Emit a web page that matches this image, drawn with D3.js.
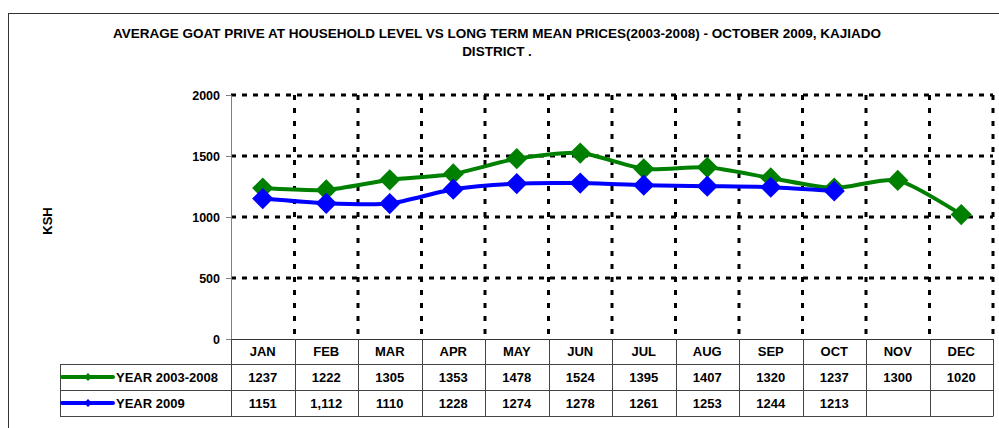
<!DOCTYPE html>
<html>
<head>
<meta charset="utf-8">
<script src="https://cdn.jsdelivr.net/npm/d3@7"></script>
<style>
  body { margin: 0; background: #fff; }
  svg { display: block; font-family: "Liberation Sans", Arial, sans-serif; font-weight: bold; }
</style>
</head>
<body>
<div id="chart"></div>
<script>
var months = ["JAN", "FEB", "MAR", "APR", "MAY", "JUN", "JUL", "AUG", "SEP", "OCT", "NOV", "DEC"];
var longTerm = [1237, 1222, 1305, 1353, 1478, 1524, 1395, 1407, 1320, 1237, 1300, 1020];
var year2009 = [1151, 1112, 1110, 1228, 1274, 1278, 1261, 1253, 1244, 1213];
var year2009Labels = ["1151", "1,112", "1110", "1228", "1274", "1278", "1261", "1253", "1244", "1213", "", ""];
var yTicks = [0, 500, 1000, 1500, 2000];
var seriesNames = ["YEAR 2003-2008", "YEAR 2009"];
var seriesColors = ["#008000", "#0000FF"];

function drawChart() {
    var width = 999;
    var height = 428;
    var fs = 13;

    var svg = d3.select('#chart')
      .append('svg')
      .attr('width', width)
      .attr('height', height);

    // outer chart border (runs off the right and bottom edges)
    svg.append('rect')
      .attr('x', 8.5).attr('y', 13.5)
      .attr('width', 1100).attr('height', 500)
      .attr('fill', 'none')
      .attr('stroke', '#333')
      .attr('stroke-width', 1);

    svg.append('text')
      .attr('x', 497).attr('y', 38)
      .attr('text-anchor', 'middle')
      .attr('font-size', 13.5)
      .text('AVERAGE GOAT PRIVE AT HOUSEHOLD LEVEL VS LONG TERM MEAN PRICES(2003-2008) - OCTOBER 2009, KAJIADO');
    svg.append('text')
      .attr('x', 497).attr('y', 56)
      .attr('text-anchor', 'middle')
      .attr('font-size', 13.5)
      .text('DISTRICT .');

    var left = 231, right = 993, top = 95, bottom = 339;

    var x = d3.scaleBand().domain(months).range([left, right]);
    var y = d3.scaleLinear().domain([0, 2000]).range([bottom, top]);

    // gridlines
    var grid = svg.append('g');
    grid.selectAll('.hgrid')
      .data(yTicks.filter(function(d) { return d > 0; }))
      .enter()
      .append('line')
      .attr('x1', left).attr('x2', right)
      .attr('y1', function(d) { return y(d); })
      .attr('y2', function(d) { return y(d); })
      .attr('stroke', '#000')
      .attr('stroke-width', 3)
      .attr('stroke-dasharray', '5,6');
    grid.selectAll('.vgrid')
      .data(months.slice(1).concat(['END']))
      .enter()
      .append('line')
      .attr('x1', function(d, i) { return left + (i + 1) * x.bandwidth(); })
      .attr('x2', function(d, i) { return left + (i + 1) * x.bandwidth(); })
      .attr('y1', top).attr('y2', bottom)
      .attr('stroke', '#000')
      .attr('stroke-width', 3)
      .attr('stroke-dasharray', '5,8');

    // y axis
    var yAxis = svg.append('g')
      .attr('transform', 'translate(' + left + ',0)')
      .call(d3.axisLeft(y).tickValues(yTicks).tickFormat(d3.format('d')).tickSize(5).tickPadding(6));
    yAxis.select('.domain').attr('stroke', '#808080');
    yAxis.selectAll('.tick line').attr('stroke', '#808080');
    yAxis.selectAll('text')
      .attr('font-size', 12.5)
      .attr('font-weight', 'bold')
      .attr('font-family', '"Liberation Sans", Arial, sans-serif')
      .attr('fill', '#000');

    svg.append('text')
      .attr('transform', 'translate(52,221) rotate(-90)')
      .attr('text-anchor', 'middle')
      .attr('font-size', fs)
      .text('KSH');

    // lines
    var line = d3.line()
      .x(function(d, i) { return x(months[i]) + x.bandwidth() / 2; })
      .y(function(d) { return y(d); })
      .curve(d3.curveCardinal.tension(0.3));

    var diamond = d3.symbol().type(d3.symbolSquare).size(225);

    [longTerm, year2009].forEach(function(series, s) {
      svg.append('path')
        .datum(series)
        .attr('d', line)
        .attr('fill', 'none')
        .attr('stroke', seriesColors[s])
        .attr('stroke-width', 4);
      svg.selectAll('.pt' + s)
        .data(series)
        .enter()
        .append('path')
        .attr('d', diamond)
        .attr('transform', function(d, i) {
          return 'translate(' + (x(months[i]) + x.bandwidth() / 2) + ',' + y(d) + ') rotate(45)';
        })
        .attr('fill', seriesColors[s]);
    });

    // data table
    var tableLeft = 60;
    var table = svg.append('g');
    var rows = [
      {label: null, cells: months},
      {label: 0, cells: longTerm.map(String)},
      {label: 1, cells: year2009Labels}
    ];
    var rowY = [bottom, bottom + 25, bottom + 51];
    var rowBottom = [bottom + 25, bottom + 51, bottom + 77];

    // horizontal borders
    table.append('line').attr('x1', left).attr('x2', right)
      .attr('y1', bottom + 0.5).attr('y2', bottom + 0.5)
      .attr('stroke', '#333').attr('stroke-width', 1.2);
    rowBottom.forEach(function(yy) {
      table.append('line').attr('x1', tableLeft).attr('x2', right)
        .attr('y1', yy + 0.5).attr('y2', yy + 0.5)
        .attr('stroke', '#444').attr('stroke-width', 1);
    });
    // vertical borders
    table.append('line').attr('x1', tableLeft + 0.5).attr('x2', tableLeft + 0.5)
      .attr('y1', rowY[1]).attr('y2', rowBottom[2] + 0.5)
      .attr('stroke', '#444');
    d3.range(13).forEach(function(i) {
      var xx = Math.round(left + i * x.bandwidth()) + 0.5;
      table.append('line').attr('x1', xx).attr('x2', xx)
        .attr('y1', bottom).attr('y2', rowBottom[2] + 0.5)
        .attr('stroke', '#444');
    });

    rows.forEach(function(r, ri) {
      table.selectAll('.cell' + ri)
        .data(r.cells)
        .enter()
        .append('text')
        .attr('x', function(d, i) { return x(months[i]) + x.bandwidth() / 2; })
        .attr('y', (rowY[ri] + rowBottom[ri]) / 2 + 4.5)
        .attr('text-anchor', 'middle')
        .attr('font-size', fs)
        .text(function(d) { return d; });
      if (r.label !== null) {
        var cy = (rowY[ri] + rowBottom[ri]) / 2;
        table.append('line')
          .attr('x1', 62).attr('x2', 113)
          .attr('y1', cy).attr('y2', cy)
          .attr('stroke', seriesColors[r.label])
          .attr('stroke-width', 4)
          .attr('stroke-linecap', 'round');
        table.append('path')
          .attr('d', d3.symbol().type(d3.symbolSquare).size(32))
          .attr('transform', 'translate(88,' + cy + ') rotate(45)')
          .attr('fill', seriesColors[r.label]);
        table.append('text')
          .attr('x', 116).attr('y', cy + 4.5)
          .attr('font-size', fs)
          .text(seriesNames[r.label]);
      }
    });
}

drawChart();
</script>
</body>
</html>
